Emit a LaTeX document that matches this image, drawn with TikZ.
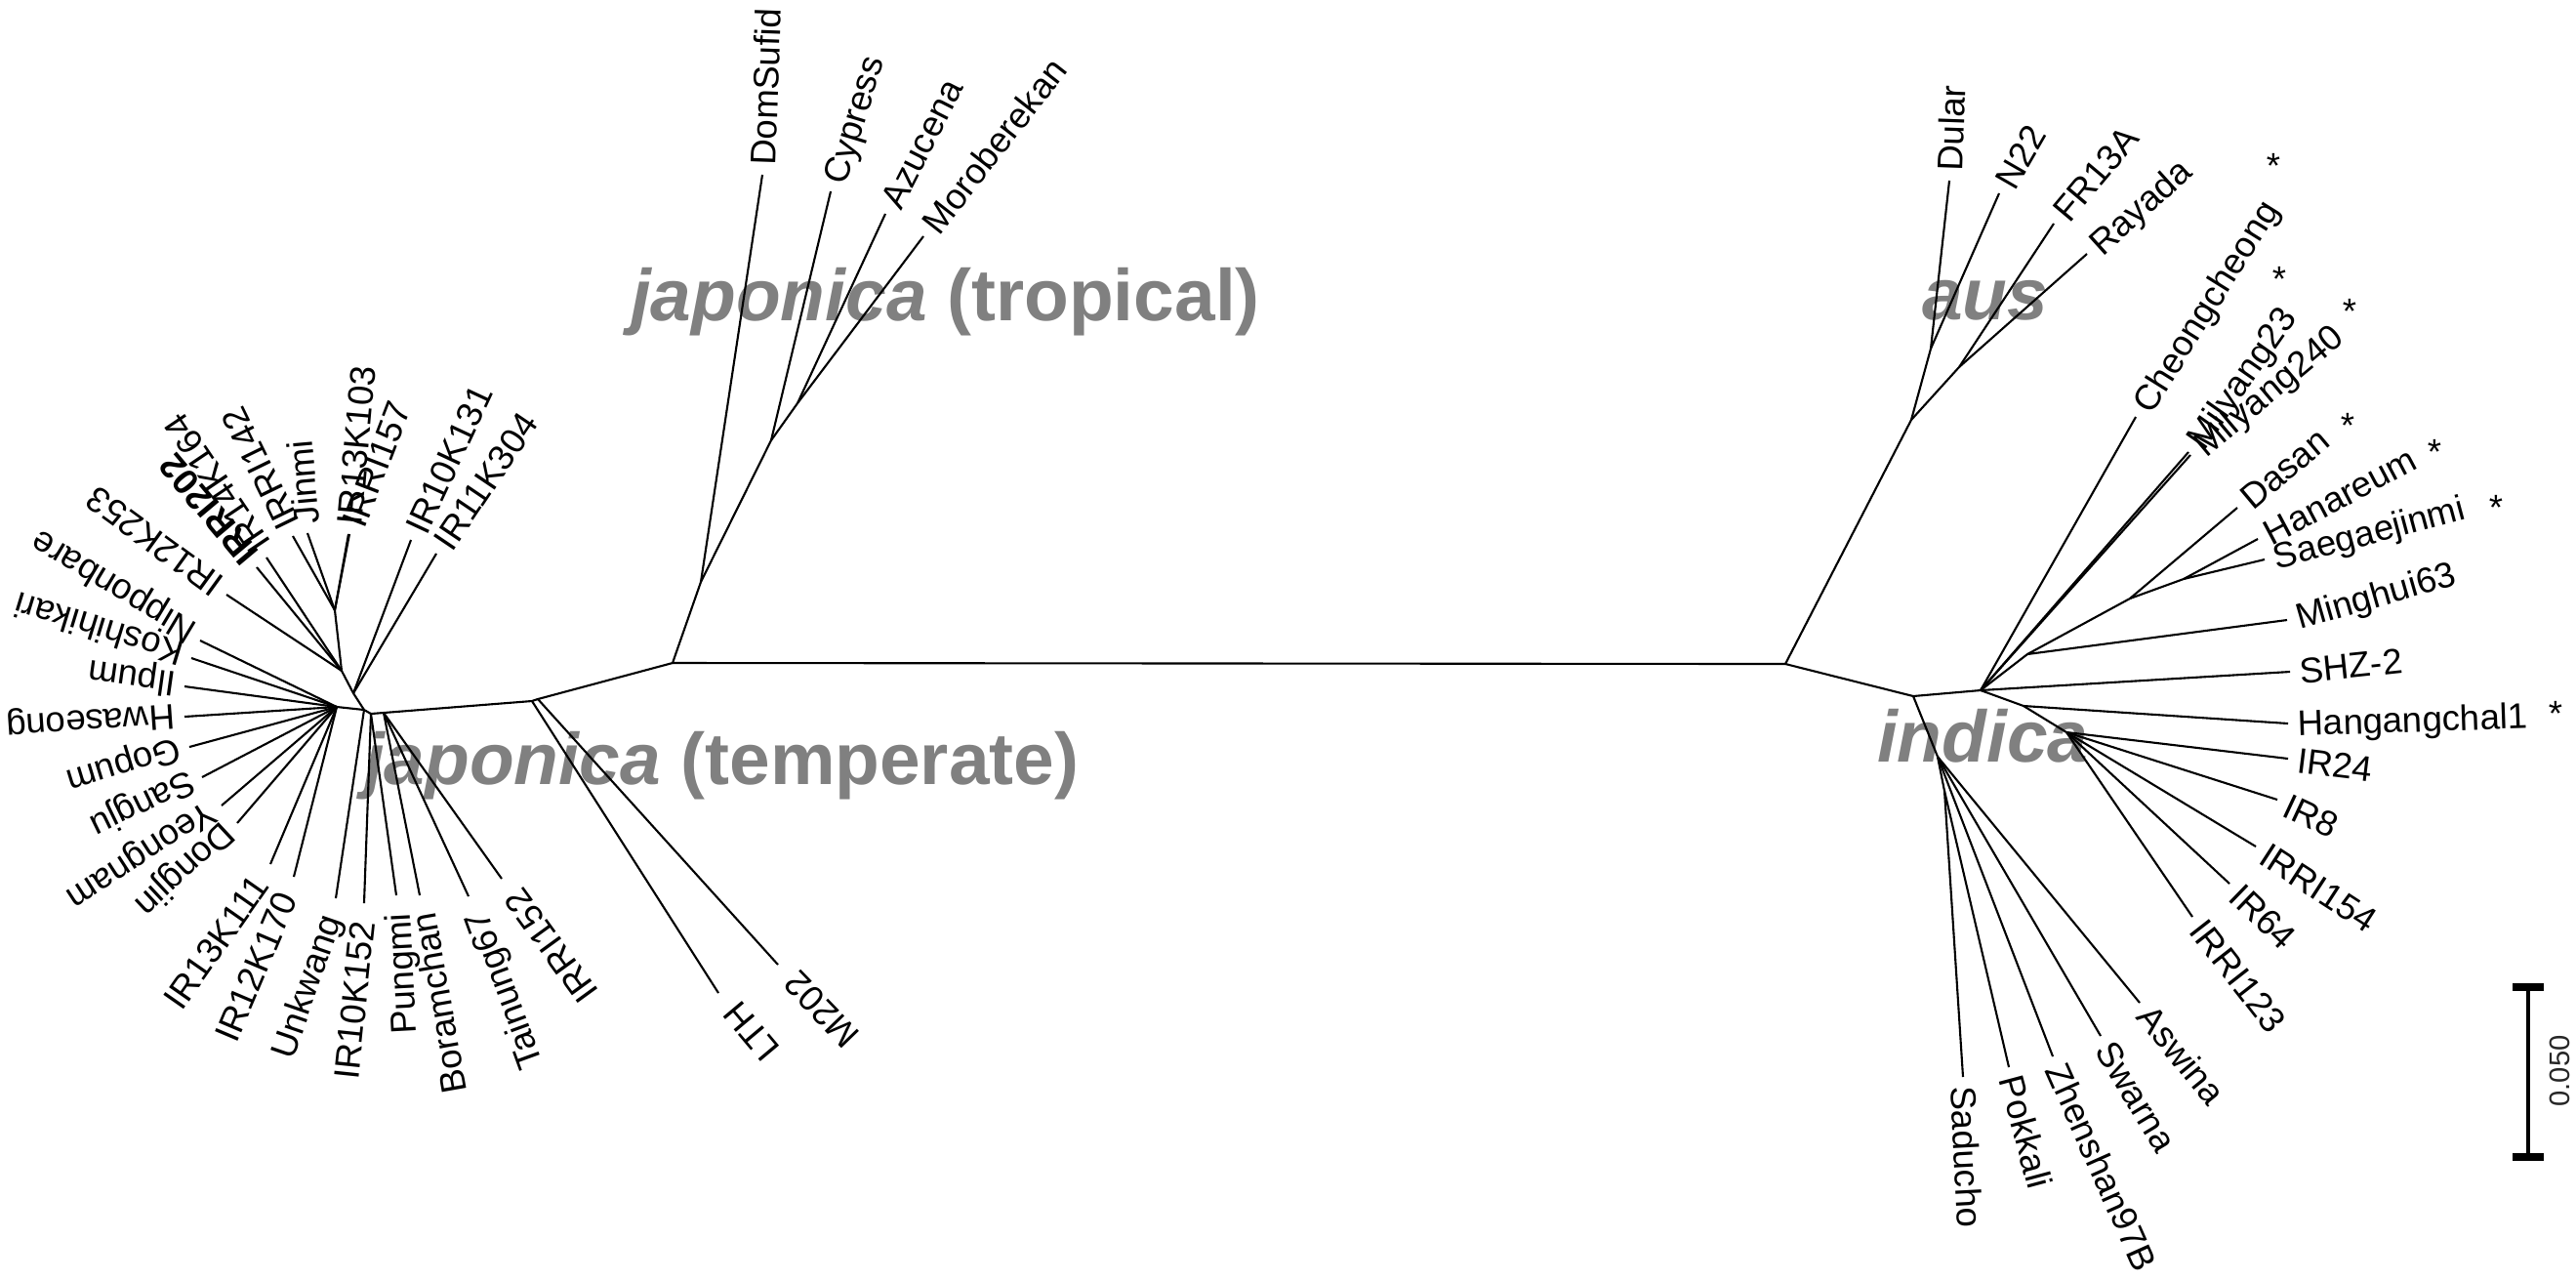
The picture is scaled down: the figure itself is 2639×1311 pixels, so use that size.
\documentclass[tikz,border=0pt]{standalone}
\usepackage{fontspec}
\setmainfont{Liberation Sans}
\definecolor{cladegray}{RGB}{128,128,128}
\newcommand{\labfont}{\fontsize{10.4}{12}\selectfont}
\newcommand{\cladefont}{\fontsize{21.3}{25}\selectfont\bfseries}

\begin{document}
\begin{tikzpicture}[x=0.1mm, y=-0.1mm, line width=0.6pt,
    leaf/.style={anchor=west, inner xsep=2.5pt, inner ysep=0pt, text height=7.5pt, text depth=0pt, font=\labfont},
    leafin/.style={leaf, anchor=east, inner xsep=5pt},
    clade/.style={anchor=base west, inner sep=0pt, text=cladegray, font=\cladefont},
    star/.style={inner sep=0pt, font=\labfont}]

    \useasboundingbox (0,0) rectangle (2639,1311);

    % Clade names
    \node[clade] (trop) at (645,328) {\textit{japonica} (tropical)};
    \node[clade] (temp) at (372,803) {\textit{japonica} (temperate)};
    \node[clade] (aus) at (1968,327) {\textit{aus}};
    \node[clade] (ind) at (1922,780) {\textit{indica}};

    % Internal nodes
    \coordinate (jl) at (689,679);
    \coordinate (jr) at (1829,680);
    \coordinate (tr1) at (718,596);
    \coordinate (tr2) at (790,451);
    \coordinate (tr3) at (817,413);
    \coordinate (jt2) at (551,716);
    \coordinate (jt) at (545,718);
    \coordinate (tj2) at (393,730);
    \coordinate (tj1) at (380,731);
    \coordinate (tj0) at (373,727);
    \coordinate (u1) at (362,710);
    \coordinate (u2) at (350,687);
    \coordinate (u3) at (343,625);
    \coordinate (l1) at (345,724);
    \coordinate (au1) at (1958,430);
    \coordinate (au2) at (1978,357);
    \coordinate (au3) at (2007,376);
    \coordinate (in0) at (1960,713);
    \coordinate (in1) at (2029,707);
    \coordinate (up1) at (2077,670);
    \coordinate (up2) at (2182,613);
    \coordinate (up3) at (2237,593);
    \coordinate (in2) at (2073,723);
    \coordinate (in3) at (2117,750);
    \coordinate (lo1) at (1985,775);
    \coordinate (lo2) at (1992,810);

    % Tropical japonica
    \node[leaf, rotate=88] (DomSufid) at (781,179) {DomSufid};
    \node[leaf, rotate=73] (Cypress) at (851,196) {Cypress};
    \node[leaf, rotate=63] (Azucena) at (907,219) {Azucena};
    \node[leaf, rotate=52] (Moroberekan) at (946,242) {Moroberekan};

    % Temperate japonica
    \node[leaf, rotate=56] (IR11K304) at (447,567) {IR11K304};
    \node[leaf, rotate=65] (IR10K131) at (421,553) {IR10K131};
    \node[leaf, rotate=69] (IRRI157) at (358,547) {IRRI157};
    \node[leaf, rotate=85] (IR13K103) at (357,547) {IR13K103};
    \node[leaf, rotate=95] (Jinmi) at (315,546) {Jinmi};
    \node[leaf, rotate=116] (IRRI142) at (300,549) {IRRI142};
    \node[leaf, rotate=124] (IR14K164) at (273,571) {IR14K164};
    \node[leaf, rotate=130, font=\labfont\bfseries] (IRRI202) at (263,581) {IRRI202};
    \node[leaf, rotate=144] (IR12K253) at (232,609) {IR12K253};
    \node[leaf, rotate=149] (Nipponbare) at (205,656) {Nipponbare};
    \node[leaf, rotate=163] (Koshihikari) at (196,674) {Koshihikari};
    \node[leaf, rotate=172] (Ilpum) at (189,703) {Ilpum};
    \node[leaf, rotate=184] (Hwaseong) at (189,734) {Hwaseong};
    \node[leaf, rotate=197] (Gopum) at (194,765) {Gopum};
    \node[leaf, rotate=206] (Sangju) at (207,796) {Sangju};
    \node[leaf, rotate=213] (Yeongnam) at (227,825) {Yeongnam};
    \node[leaf, rotate=223] (Dongjin) at (243,843) {Dongjin};
    \node[leafin, rotate=55] (IR13K111) at (277,885) {IR13K111};
    \node[leafin, rotate=67] (IR12K170) at (301,898) {IR12K170};
    \node[leafin, rotate=71] (Unkwang) at (344,920) {Unkwang};
    \node[leafin, rotate=84] (IR10K152) at (373,925) {IR10K152};
    \node[leafin, rotate=93] (Pungmi) at (406,917) {Pungmi};
    \node[leafin, rotate=100] (Boramchan) at (430,917) {Boramchan};
    \node[leafin, rotate=110] (Tainung67) at (480,918) {Tainung67};
    \node[leafin, rotate=126] (IRRI152) at (514,900) {IRRI152};
    \node[leafin, rotate=130] (LTH) at (736,1017) {LTH};
    \node[leafin, rotate=134] (M202) at (797,988) {M202};

    % aus
    \node[leaf, rotate=88] (Dular) at (1997,185) {Dular};
    \node[leaf, rotate=60] (N22) at (2048,198) {N22};
    \node[leaf, rotate=50] (FR13A) at (2104,229) {FR13A};
    \node[leaf, rotate=42] (Rayada) at (2138,260) {Rayada};

    % indica
    \node[leaf, rotate=58] (Cheongcheong) at (2188,427) {Cheongcheong};
    \node[leaf, rotate=55] (Milyang23) at (2242,463) {Milyang23};
    \node[leaf, rotate=40] (Milyang240) at (2244,466) {Milyang240};
    \node[leaf, rotate=40] (Dasan) at (2292,520) {Dasan};
    \node[leaf, rotate=28] (Hanareum) at (2313,552) {Hanareum};
    \node[leaf, rotate=15] (Saegaejinmi) at (2320,573) {Saegaejinmi};
    \node[leaf, rotate=16] (Minghui63) at (2343,635) {Minghui63};
    \node[leaf, rotate=6] (SHZ-2) at (2346,688) {SHZ-2};
    \node[leaf, rotate=2] (Hangangchal1) at (2344,741) {Hangangchal1};
    \node[leaf, rotate=-7] (IR24) at (2344,777) {IR24};
    \node[leaf, rotate=-25] (IR8) at (2333,819) {IR8};
    \node[leaf, rotate=-33] (IRRI154) at (2311,867) {IRRI154};
    \node[leaf, rotate=-44] (IR64) at (2284,905) {IR64};
    \node[leaf, rotate=-52] (IRRI123) at (2246,939) {IRRI123};
    \node[leaf, rotate=-51] (Aswina) at (2192,1027) {Aswina};
    \node[leaf, rotate=-59] (Swarna) at (2152,1061) {Swarna};
    \node[leaf, rotate=-66] (Zhenshan97B) at (2103,1082) {Zhenshan97B};
    \node[leaf, rotate=-75] (Pokkali) at (2058,1093) {Pokkali};
    \node[leaf, rotate=-87] (Saducho) at (2011,1103) {Saducho};

    % Marks
    \node[star] (st1) at (2329,170) {*};
    \node[star] (st2) at (2335,286) {*};
    \node[star] (st3) at (2407,319) {*};
    \node[star] (st4) at (2405,436) {*};
    \node[star] (st5) at (2494,463) {*};
    \node[star] (st6) at (2557,520) {*};
    \node[star] (st7) at (2618,731) {*};

    % Backbone and tropical branches
    \draw (jl) -- (jr);
    \draw (jl) -- (tr1) -- (tr2) -- (tr3);
    \draw (tr1) -- (DomSufid.west);
    \draw (tr2) -- (Cypress.west);
    \draw (tr3) -- (Azucena.west);
    \draw (tr3) -- (Moroberekan.west);

    % Temperate branches
    \draw (jl) -- (jt2) -- (jt) -- (tj2) -- (tj1) -- (tj0);
    \draw (jt) -- (LTH.east);
    \draw (jt2) -- (M202.east);
    \draw (tj0) -- (u1) -- (u2) -- (u3);
    \draw (tj0) -- (l1);
    \draw (u1) -- (IR11K304.west);
    \draw (u1) -- (IR10K131.west);
    \draw (u3) -- (IRRI157.west);
    \draw (u3) -- (IR13K103.west);
    \draw (u3) -- (Jinmi.west);
    \draw (u3) -- (IRRI142.west);
    \draw (u2) -- (IR14K164.west);
    \draw (u2) -- (IRRI202.west);
    \draw (u2) -- (IR12K253.west);
    \draw (l1) -- (Nipponbare.west);
    \draw (l1) -- (Koshihikari.west);
    \draw (l1) -- (Ilpum.west);
    \draw (l1) -- (Hwaseong.west);
    \draw (l1) -- (Gopum.west);
    \draw (l1) -- (Sangju.west);
    \draw (l1) -- (Yeongnam.west);
    \draw (l1) -- (Dongjin.west);
    \draw (l1) -- (IR13K111.east);
    \draw (l1) -- (IR12K170.east);
    \draw (tj0) -- (Unkwang.east);
    \draw (tj1) -- (IR10K152.east);
    \draw (tj1) -- (Pungmi.east);
    \draw (tj2) -- (Boramchan.east);
    \draw (tj2) -- (Tainung67.east);
    \draw (tj2) -- (IRRI152.east);

    % aus branches
    \draw (jr) -- (au1) -- (au2);
    \draw (au1) -- (au3);
    \draw (au2) -- (Dular.west);
    \draw (au2) -- (N22.west);
    \draw (au3) -- (FR13A.west);
    \draw (au3) -- (Rayada.west);

    % indica branches
    \draw (jr) -- (in0) -- (in1) -- (in2) -- (in3);
    \draw (in1) -- (Cheongcheong.west);
    \draw (in1) -- (Milyang23.west);
    \draw (in1) -- (Milyang240.west);
    \draw (in1) -- (up1) -- (up2) -- (up3);
    \draw (up1) -- (Minghui63.west);
    \draw (up2) -- (Dasan.west);
    \draw (up3) -- (Hanareum.west);
    \draw (up3) -- (Saegaejinmi.west);
    \draw (in1) -- (SHZ-2.west);
    \draw (in2) -- (Hangangchal1.west);
    \draw (in3) -- (IR24.west);
    \draw (in3) -- (IR8.west);
    \draw (in3) -- (IRRI154.west);
    \draw (in3) -- (IR64.west);
    \draw (in3) -- (IRRI123.west);
    \draw (in0) -- (lo1) -- (lo2);
    \draw (lo1) -- (Aswina.west);
    \draw (lo1) -- (Swarna.west);
    \draw (lo1) -- (Zhenshan97B.west);
    \draw (lo2) -- (Pokkali.west);
    \draw (lo2) -- (Saducho.west);

    % Scale bar
    \coordinate (sbt) at (2590,1011);
    \coordinate (sbb) at (2590,1185);
    \draw[line width=1.4pt] (sbt) -- (sbb);
    \draw[line width=2.4pt] (sbt) ++(-16,0) -- ++(32,0);
    \draw[line width=2.4pt] (sbb) ++(-16,0) -- ++(32,0);
    \node[rotate=90, inner sep=0pt, font=\fontsize{8.3}{10}\selectfont, text=black!85] (sblab) at (2622,1097) {0.050};
\end{tikzpicture}
\end{document}
